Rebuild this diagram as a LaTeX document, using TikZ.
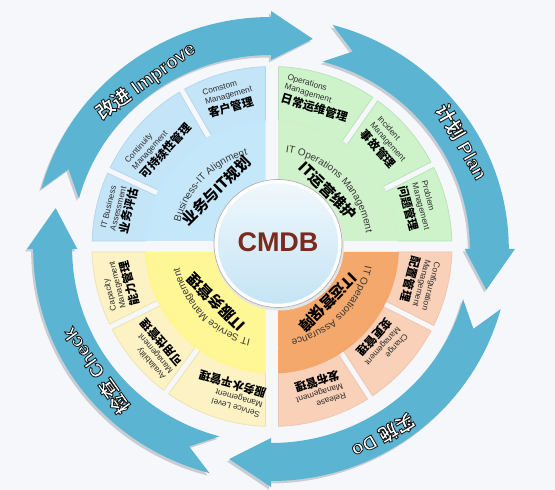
\documentclass[tikz,border=0pt]{standalone}
\usepackage{fontspec}
\setmainfont{Liberation Sans}
\newfontfamily\cjk{Noto Sans CJK SC}
\usetikzlibrary{decorations.text}

\definecolor{bgc}{RGB}{245,247,251}
\definecolor{arrowc}{RGB}{90,180,210}
\definecolor{arrowsh}{RGB}{200,205,212}
\definecolor{txtc}{RGB}{45,45,45}
\definecolor{itxt}{RGB}{55,55,55}
\definecolor{cmdbc}{RGB}{122,42,30}
\definecolor{ccTop}{RGB}{240,248,252}
\definecolor{ccBot}{RGB}{196,228,244}
% panels
\definecolor{bP1}{RGB}{196,228,247}
\definecolor{bP2}{RGB}{230,244,252}
\definecolor{bPl}{RGB}{178,214,236}
\definecolor{gP1}{RGB}{206,243,203}
\definecolor{gP2}{RGB}{234,250,232}
\definecolor{gPl}{RGB}{182,226,180}
\definecolor{yP1}{RGB}{252,242,196}
\definecolor{yP2}{RGB}{255,251,234}
\definecolor{yPl}{RGB}{236,226,172}
\definecolor{oP1}{RGB}{249,208,184}
\definecolor{oP2}{RGB}{253,236,226}
\definecolor{oPl}{RGB}{238,196,172}
% inner sectors
\definecolor{bI1}{RGB}{196,232,250}
\definecolor{bI2}{RGB}{118,198,240}
\definecolor{gI1}{RGB}{208,242,202}
\definecolor{gI2}{RGB}{146,214,140}
\definecolor{yI1}{RGB}{255,246,150}
\definecolor{yI2}{RGB}{255,228,0}
\definecolor{oI1}{RGB}{245,168,108}
\definecolor{oI2}{RGB}{226,106,28}

\pgfdeclareradialshading{shBP}{\pgfpoint{0bp}{0bp}}{color(0bp)=(bP1);color(35bp)=(bP1);color(50bp)=(bP2)}
\pgfdeclareradialshading{shGP}{\pgfpoint{0bp}{0bp}}{color(0bp)=(gP1);color(35bp)=(gP1);color(50bp)=(gP2)}
\pgfdeclareradialshading{shYP}{\pgfpoint{0bp}{0bp}}{color(0bp)=(yP1);color(35bp)=(yP1);color(50bp)=(yP2)}
\pgfdeclareradialshading{shOP}{\pgfpoint{0bp}{0bp}}{color(0bp)=(oP1);color(35bp)=(oP1);color(50bp)=(oP2)}
\pgfdeclareradialshading{shBI}{\pgfpoint{0bp}{0bp}}{color(0bp)=(bI1);color(24bp)=(bI1);color(50bp)=(bI2)}
\pgfdeclareradialshading{shGI}{\pgfpoint{0bp}{0bp}}{color(0bp)=(gI1);color(24bp)=(gI1);color(50bp)=(gI2)}
\pgfdeclareradialshading{shYI}{\pgfpoint{0bp}{0bp}}{color(0bp)=(yI1);color(24bp)=(yI1);color(50bp)=(yI2)}
\pgfdeclareradialshading{shOI}{\pgfpoint{0bp}{0bp}}{color(0bp)=(oI1);color(24bp)=(oI1);color(50bp)=(oI2)}

\newcommand\cjkb{\fontsize{11.5}{13}\selectfont\cjk\bfseries\color{black}}
\newcommand\outl[1]{\special{pdf:literal direct 2 Tr 0.85 w 0.1 0.1 0.1 RG}#1\special{pdf:literal direct 0 Tr}}
\newcommand\alabel[4]{%
  \node[alab, text=white, rotate=#2-90] (#1) at ({1.025*#3*cos(#2)},{#3*sin(#2)}) {\outl{#4}};}

\begin{document}
\begin{tikzpicture}[x=1pt,y=1pt,
  ptext/.style={align=left, inner sep=0pt, font=\fontsize{8.3}{9.8}\selectfont, text=txtc},
  itext/.style={inner sep=0pt, font=\fontsize{15}{16}\selectfont\cjk\bfseries, text=black},
  alab/.style={inner sep=0pt, font=\fontsize{19}{20}\selectfont\bfseries},
  etext/.style={decorate, decoration={text along path, text align=center,
     text={|\fontsize{10}{12}\selectfont\color{itxt}|#1}}}
]
\useasboundingbox (0,0) rectangle (555,490);
\fill[bgc] (0,0) rectangle (555,490);

% ---------- PDCA arrows ----------
\begin{scope}[shift={(271,241)}, xscale=1.025]
  \foreach \B in {90,0,-90,-180} {
    \pgfmathsetmacro\T{\B+75}
    \pgfmathsetmacro\P{\B-11}
    \pgfmathsetmacro\N{\T-7}
    \fill[arrowsh, shift={(-2,-2.5)}] (\T:232) arc[start angle=\T, end angle=\B, radius=232]
      -- (\B:238) -- (\P:214) -- (\B:189) -- (\B:194)
      arc[start angle=\B, end angle=\T, radius=194] -- (\N:213) -- cycle;
    \fill[arrowc] (\T:232) arc[start angle=\T, end angle=\B, radius=232]
      -- (\B:238) -- (\P:214) -- (\B:189) -- (\B:194)
      arc[start angle=\B, end angle=\T, radius=194] -- (\N:213) -- cycle;
  }
\end{scope}
\begin{scope}[shift={(271,241)}]
  \alabel{improve}{126}{208}{{\cjk 改进} Improve}
  \alabel{plan}{30}{215}{{\cjk 计划} Plan}
  \alabel{do}{-59.6}{217}{{\cjk 实施} Do}
  \alabel{check}{215.5}{210}{{\cjk 检查} Check}
\end{scope}

% ---------- wheel ----------
\begin{scope}[shift={(272,243.5)}]
  % outer panels
  \foreach \a/\b/\ga/\gb/\sh/\lc in {
      90/120/6.5/3/shBP/bPl, 120/155/3/3/shBP/bPl, 155/180/3/5.5/shBP/bPl,
      0/27/5.5/3/shGP/gPl, 27/55/3/3/shGP/gPl, 55/90/3/6.5/shGP/gPl,
      -90/-57/6.5/3/shOP/oPl, -57/-27/3/3/shOP/oPl, -27/0/3/5.5/shOP/oPl,
      180/206.5/5.5/3/shYP/yPl, 206.5/234/3/3/shYP/yPl, 234/270/3/6.5/shYP/yPl} {
    \pgfmathsetmacro\aI{\a+asin(\ga/126)}
    \pgfmathsetmacro\bI{\b-asin(\gb/126)}
    \pgfmathsetmacro\aO{\a+asin(\ga/180)}
    \pgfmathsetmacro\bO{\b-asin(\gb/180)}
    \begin{scope}
      \clip (\aI:126) arc[start angle=\aI, end angle=\bI, radius=126]
        -- (\bO:180) arc[start angle=\bO, end angle=\aO, radius=180] -- cycle;
      \shade[shading=\sh] (0,0) circle (180);
    \end{scope}
    \draw[draw=\lc, line width=0.7pt] (\aI:126) arc[start angle=\aI, end angle=\bI, radius=126]
        -- (\bO:180) arc[start angle=\bO, end angle=\aO, radius=180] -- cycle;
  }
  % inner sectors
  \begin{scope}
    \clip (-6.5,5.5) -- (92.934:127) arc[start angle=92.934, end angle=177.518, radius=127] -- cycle;
    \shade[shading=shBI] (0,0) circle (127);
  \end{scope}
  \begin{scope}
    \clip (6.5,5.5) -- (2.482:127) arc[start angle=2.482, end angle=87.066, radius=127] -- cycle;
    \shade[shading=shGI] (0,0) circle (127);
  \end{scope}
  \begin{scope}
    \clip (-6.5,-5.5) -- (182.482:127) arc[start angle=182.482, end angle=267.066, radius=127] -- cycle;
    \shade[shading=shYI] (0,0) circle (127);
  \end{scope}
  \begin{scope}
    \clip (6.5,-5.5) -- (272.934:127) arc[start angle=272.934, end angle=357.518, radius=127] -- cycle;
    \shade[shading=shOI] (0,0) circle (127);
  \end{scope}

  % panel texts
  \node[ptext, rotate=16] (p1) at (106:155) {Comstom\\Management\\[1pt]\cjkb 客户管理};
  \node[ptext, rotate=48] (p2) at (138:153) {Continuity\\Management\\[1pt]\cjkb 可持续性管理};
  \node[ptext, rotate=76] (p3) at (166:157) {IT Business\\Assessment\\[1pt]\cjkb 业务评估};
  \node[ptext, rotate=-17] (p4) at (73:155) {Operations\\Management\\[1pt]\cjkb 日常运维管理};
  \node[ptext, rotate=-48] (p5) at (42:154) {Incident\\Management\\[1pt]\cjkb 事故管理};
  \node[ptext, rotate=-75] (p6) at (15:152) {Problem\\Management\\[1pt]\cjkb 问题管理};
  \node[ptext, rotate=-105] (p7) at (-14:152) {Configuration\\Management\\[1pt]\cjkb 配置管理};
  \node[ptext, rotate=-132] (p8) at (-42:147) {Change\\Management\\[1pt]\cjkb 变更管理};
  \node[ptext, rotate=-162] (p9) at (-72:152) {Release\\Management\\[1pt]\cjkb 发布管理};
  \node[ptext, rotate=104] (p10) at (194:157) {Capacity\\Management\\[1pt]\cjkb 能力管理};
  \node[ptext, rotate=131] (p11) at (221:156) {Availability\\Management\\[1pt]\cjkb 可用性管理};
  \node[ptext, rotate=164] (p12) at (254:153) {Service Level\\Management\\[1pt]\cjkb 服务水平管理};

  % inner sector texts
  \node[itext, rotate=45] (i1) at (135:79) {业务与IT规划};
  \node[itext, rotate=-45] (i2) at (45:79) {IT运营维护};
  \node[itext, rotate=-135] (i3) at (-45:79) {IT运营保障};
  \node[itext, rotate=135] (i4) at (225:79) {IT服务管理};
  \path[etext={Business-IT Alignment}] (185:95) arc[start angle=185, end angle=85, radius=95];
  \path[etext={IT Operations Management}] (95:95) arc[start angle=95, end angle=-5, radius=95];
  \path[etext={IT Operations Assurance}] (5:95) arc[start angle=5, end angle=-95, radius=95];
  \path[etext={IT Service Management}] (275:95) arc[start angle=275, end angle=175, radius=95];

  % centre
  \fill[black!10] (7,1) circle (65);
  \node[circle, minimum size=124pt, inner sep=0pt, top color=ccTop, bottom color=ccBot,
        draw=white, line width=3.5pt] (core) at (6,3) {};
  \draw[black!30, line width=0.7pt] (core.center) circle (64);
  \node[font=\fontsize{27}{27}\selectfont\bfseries, text=cmdbc] (cmdb) at ([yshift=1pt]core.center) {CMDB};
\end{scope}
\end{tikzpicture}
\end{document}
